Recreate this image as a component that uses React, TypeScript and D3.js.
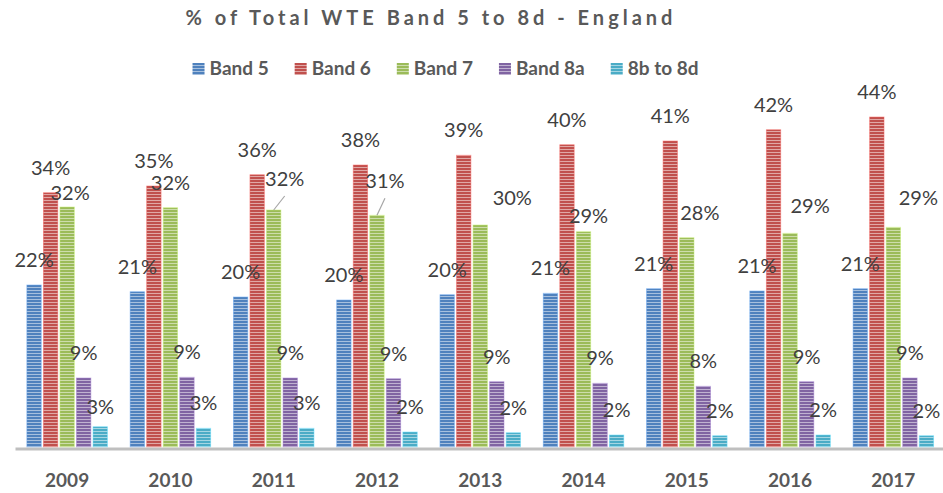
import React, { useEffect, useRef } from 'react';
import * as d3 from 'd3';

// values (% of total WTE)
const years = ['2009', '2010', '2011', '2012', '2013', '2014', '2015', '2016', '2017'];
const seriesNames = ['Band 5', 'Band 6', 'Band 7', 'Band 8a', '8b to 8d'];
const band5 = [21.6, 20.7, 20.0, 19.6, 20.3, 20.5, 21.1, 20.8, 21.1];
const band6 = [33.9, 34.8, 36.3, 37.6, 38.9, 40.3, 40.8, 42.3, 44.0];
const band7 = [32.0, 31.9, 31.6, 30.9, 29.6, 28.7, 27.9, 28.5, 29.3];
const band8a = [9.2, 9.3, 9.2, 9.1, 8.7, 8.5, 8.1, 8.7, 9.2];
const band8bTo8d = [2.7, 2.5, 2.5, 2.0, 1.9, 1.6, 1.5, 1.6, 1.5];
const colors = ['#4f81bd', '#c0504d', '#9bbb59', '#8064a2', '#4bacc6'];

// labels that were dragged by hand in the original (series index, year index, dx, dy, leader line)
const movedLabels: [number, number, number, number, boolean][] = [
  [2, 0, 3, 11, false],
  [2, 2, 11, -6, true],
  [2, 3, 8, -9, true],
  [2, 4, 32, -2, false],
  [2, 5, 5, 9, false],
  [2, 6, 13, 0, false],
  [2, 7, 20, -2, false],
  [2, 8, 25, -4, false],
  [4, 0, 0, 5, false],
];

const W = 943;
const H = 493;
const FONT = 'Lato, "Open Sans", sans-serif';

const Chart = () => {
  const svgRef = useRef<SVGSVGElement>(null);

  useEffect(() => {
    const svg = d3.select(svgRef.current);
    svg.selectAll('*').remove();

    const series = [band5, band6, band7, band8a, band8bTo8d];
    const baseY = 447;

    const x0 = d3.scaleBand<string>().domain(years).range([15.5, 945]).paddingInner(0.22).paddingOuter(0.11);
    const x1 = d3.scaleBand<number>().domain(d3.range(series.length)).range([0, x0.bandwidth()]).paddingInner(0.13);
    const y = d3.scaleLinear().domain([0, 50]).range([baseY, baseY - 375]);

    // striped fills like the excel pattern
    const defs = svg.append('defs');
    colors.forEach((c, i) => {
      const p = defs.append('pattern')
        .attr('id', 'stripe' + i)
        .attr('patternUnits', 'userSpaceOnUse')
        .attr('width', 6)
        .attr('height', 3);
      p.append('rect').attr('width', 6).attr('height', 3).attr('fill', c);
      p.append('rect').attr('y', 2).attr('width', 6).attr('height', 1).attr('fill', '#fff').attr('opacity', 0.5);
    });

    // title
    svg.append('text')
      .attr('x', 431)
      .attr('y', 25)
      .attr('text-anchor', 'middle')
      .attr('font-family', FONT)
      .attr('font-weight', 'bold')
      .attr('font-size', 20)
      .attr('letter-spacing', 4)
      .attr('fill', '#595959')
      .text('% of Total WTE Band 5 to 8d - England');

    // legend, laid out from measured text widths
    const legend = svg.append('g');
    let lx = 0;
    seriesNames.forEach((name, i) => {
      const g = legend.append('g').attr('transform', `translate(${lx},0)`);
      g.append('rect')
        .attr('x', 0).attr('y', 63).attr('width', 12).attr('height', 12)
        .attr('fill', `url(#stripe${i})`);
      const t = g.append('text')
        .attr('x', 17).attr('y', 75)
        .attr('font-family', FONT).attr('font-weight', 'bold').attr('font-size', 19)
        .attr('fill', '#595959')
        .text(name);
      const tw = (t.node() as SVGTextElement).getComputedTextLength();
      lx += 17 + tw + (i < seriesNames.length - 1 ? 26 : 0);
    });
    legend.attr('transform', `translate(${445.5 - lx / 2},0)`);

    // bars
    const groups = svg.append('g')
      .selectAll('g')
      .data(years)
      .enter()
      .append('g')
      .attr('transform', (d) => `translate(${x0(d)},0)`);

    groups.selectAll('rect')
      .data((d, yi) => series.map((s, si) => ({ si, v: s[yi] })))
      .enter()
      .append('rect')
      .attr('x', (d) => x1(d.si) as number)
      .attr('y', (d) => y(d.v))
      .attr('width', x1.bandwidth())
      .attr('height', (d) => baseY - y(d.v))
      .attr('fill', (d) => `url(#stripe${d.si})`)
      .attr('stroke', (d) => d3.color(colors[d.si])!.brighter(0.7).formatHex())
      .attr('stroke-opacity', 0.6)
      .attr('stroke-width', 0.8);

    // data labels
    const labels = svg.append('g');
    years.forEach((yr, yi) => {
      series.forEach((s, si) => {
        const v = s[yi];
        const cx = (x0(yr) as number) + (x1(si) as number) + x1.bandwidth() / 2;
        const top = y(v);
        let dx = 0;
        let dy = 0;
        let leader = false;
        const m = movedLabels.find((e) => e[0] === si && e[1] === yi);
        if (m) {
          dx = m[2];
          dy = m[3];
          leader = m[4];
        }
        const ly = top - 18 + dy;
        if (leader) {
          labels.append('line')
            .attr('x1', cx + dx).attr('y1', ly + 10)
            .attr('x2', cx).attr('y2', top)
            .attr('stroke', '#a6a6a6').attr('stroke-width', 1.2);
        }
        labels.append('text')
          .attr('x', cx + dx)
          .attr('y', ly)
          .attr('text-anchor', 'middle')
          .attr('font-family', FONT)
          .attr('font-size', 20)
          .attr('fill', '#404040')
          .text(Math.round(v) + '%');
      });
    });

    // axis line + year labels
    svg.append('line')
      .attr('x1', 15.5).attr('x2', W)
      .attr('y1', 449).attr('y2', 449)
      .attr('stroke', '#bfbfbf').attr('stroke-width', 3);

    svg.append('g')
      .selectAll('text')
      .data(years)
      .enter()
      .append('text')
      .attr('x', (d) => (x0(d) as number) + x0.bandwidth() / 2)
      .attr('y', 487)
      .attr('text-anchor', 'middle')
      .attr('font-family', FONT)
      .attr('font-weight', 'bold')
      .attr('font-size', 19)
      .attr('fill', '#595959')
      .text((d) => d);
  }, []);

  return (
    <svg
      ref={svgRef}
      width={W}
      height={H}
      style={{ position: 'absolute', left: 0, top: 0, background: '#fff' }}
    />
  );
};

export default function App() {
  return <Chart />;
}
